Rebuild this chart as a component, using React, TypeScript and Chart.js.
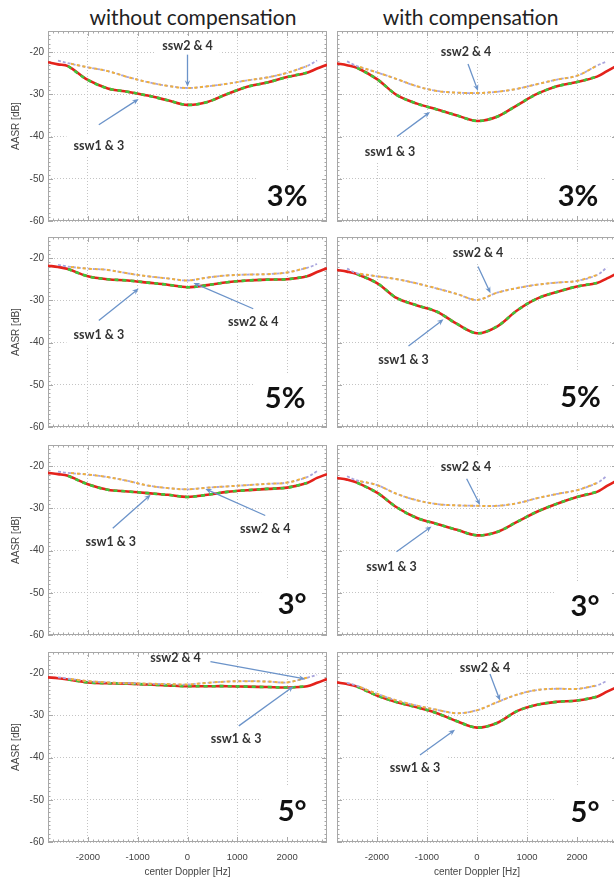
import React, { useEffect, useRef } from 'react';
import { Chart, registerables } from 'chart.js';
Chart.register(...registerables);

// ---------- data ----------
const FREQ_HZ = [-2800, -2600, -2400, -2000, -1600, -1200, -800, -400, 0, 400, 800, 1200, 1600, 2000, 2400, 2600, 2800];
const X_TICKS = [-2000, -1000, 0, 1000, 2000];
const Y_TICKS = [-60, -50, -40, -30, -20];
const COLUMN_TITLES = ['without compensation', 'with compensation'];
const ROW_TAGS = ['3%', '5%', '3°', '5°'];
const SSW13_LABEL = 'ssw1 & 3';
const SSW24_LABEL = 'ssw2 & 4';

// without compensation (left column)
const L1_SSW13 = [-22.4, -22.9, -23.3, -26.6, -28.6, -29.4, -30.3, -31.4, -32.5, -31.8, -29.9, -28.2, -27.2, -25.9, -24.9, -23.9, -23.0];
const L1_SSW24 = [null, -22.0, -22.6, -23.6, -24.5, -25.9, -27.1, -28.0, -28.5, -28.1, -27.5, -26.7, -26.0, -24.9, -23.3, -22.0, null];
const L2_SSW13 = [-21.8, -22.1, -22.6, -24.3, -25.0, -25.3, -25.8, -26.3, -26.9, -26.4, -25.7, -25.3, -25.1, -25.0, -24.3, -23.3, -22.4];
const L2_SSW24 = [null, -21.6, -22.0, -22.5, -22.8, -23.6, -24.3, -24.8, -25.3, -24.6, -24.1, -23.9, -23.8, -23.4, -22.3, -21.4, null];
const L3_SSW13 = [-21.6, -21.9, -22.3, -24.3, -25.6, -26.0, -26.4, -26.8, -27.3, -26.8, -26.1, -25.7, -25.4, -25.1, -24.0, -22.8, -21.9];
const L3_SSW24 = [null, -21.3, -21.6, -22.0, -22.6, -23.5, -24.6, -25.2, -25.5, -25.1, -24.8, -24.5, -24.2, -23.9, -22.6, -21.2, null];
const L4_SSW13 = [-21.0, -21.2, -21.5, -22.2, -22.4, -22.5, -22.7, -22.9, -23.1, -23.1, -23.1, -23.2, -23.3, -23.4, -23.1, -22.3, -21.4];
const L4_SSW24 = [null, -21.0, -21.3, -21.9, -22.2, -22.4, -22.5, -22.6, -22.7, -22.3, -22.0, -21.9, -22.0, -22.2, -21.1, -20.4, null];

// with compensation (right column)
const R1_SSW13 = [-22.7, -23.1, -23.7, -26.4, -30.2, -32.2, -33.6, -35.0, -36.3, -35.3, -32.6, -29.9, -28.1, -27.1, -25.8, -24.5, -23.2];
const R1_SSW24 = [null, -22.2, -23.3, -24.8, -26.4, -28.1, -29.2, -29.6, -29.7, -29.4, -28.7, -27.6, -26.5, -25.6, -23.2, -22.2, null];
const R2_SSW13 = [-22.8, -23.2, -23.8, -25.9, -29.5, -31.2, -32.7, -35.6, -37.8, -36.2, -32.4, -29.6, -28.0, -26.7, -25.9, -24.8, -23.6];
const R2_SSW24 = [null, -22.5, -23.6, -24.3, -25.0, -26.0, -27.2, -28.5, -29.9, -28.2, -27.1, -26.3, -25.8, -25.4, -24.0, -22.2, null];
const R3_SSW13 = [-22.8, -23.2, -23.9, -26.3, -29.8, -32.3, -33.7, -35.1, -36.4, -35.6, -33.2, -30.8, -28.9, -27.3, -26.1, -24.7, -23.4];
const R3_SSW24 = [null, -22.4, -23.4, -24.5, -26.6, -28.1, -29.0, -29.3, -29.4, -29.4, -28.8, -27.6, -26.6, -25.7, -24.0, -22.3, null];
const R4_SSW13 = [-22.2, -22.6, -23.2, -25.3, -26.9, -28.1, -29.5, -31.4, -32.9, -31.8, -29.0, -27.5, -26.8, -26.5, -25.6, -24.4, -23.3];
const R4_SSW24 = [null, -22.3, -23.0, -24.9, -26.5, -27.7, -28.7, -29.5, -28.8, -26.9, -25.1, -24.0, -23.7, -23.75, -22.9, -21.8, null];

// ---------- annotation placement (data units: [Hz, dB]) ----------
type Note = { text: string; at: [number, number]; from: [number, number]; to: [number, number] };
type PanelCfg = { row: number; col: number; lower: (number | null)[]; upper: (number | null)[]; tagAt: [number, number]; notes: Note[] };

const PANELS: PanelCfg[] = [
  { row: 0, col: 0, lower: L1_SSW13, upper: L1_SSW24, tagAt: [2000, -54.2], notes: [
    { text: SSW24_LABEL, at: [0, -18.6], from: [0, -20.6], to: [0, -28.2] },
    { text: SSW13_LABEL, at: [-1780, -42.2], from: [-1780, -37.2], to: [-980, -31.1] },
  ] },
  { row: 0, col: 1, lower: R1_SSW13, upper: R1_SSW24, tagAt: [2020, -54.2], notes: [
    { text: SSW24_LABEL, at: [-220, -20.0], from: [-180, -22.8], to: [20, -29.2] },
    { text: SSW13_LABEL, at: [-1740, -43.6], from: [-1600, -40.0], to: [-940, -34.2] },
  ] },
  { row: 1, col: 0, lower: L2_SSW13, upper: L2_SSW24, tagAt: [1960, -53.4], notes: [
    { text: SSW13_LABEL, at: [-1780, -38.1], from: [-1780, -34.8], to: [-980, -27.2] },
    { text: SSW24_LABEL, at: [1320, -35.1], from: [1320, -32.0], to: [120, -25.9] },
  ] },
  { row: 1, col: 1, lower: R2_SSW13, upper: R2_SSW24, tagAt: [2070, -53.0], notes: [
    { text: SSW24_LABEL, at: [20, -18.8], from: [20, -22.0], to: [270, -28.3] },
    { text: SSW13_LABEL, at: [-1470, -44.2], from: [-1370, -40.8], to: [-670, -34.5] },
  ] },
  { row: 2, col: 0, lower: L3_SSW13, upper: L3_SSW24, tagAt: [2100, -52.8], notes: [
    { text: SSW13_LABEL, at: [-1540, -38.0], from: [-1500, -34.7], to: [-740, -26.8] },
    { text: SSW24_LABEL, at: [1560, -34.9], from: [1560, -31.7], to: [360, -25.4] },
  ] },
  { row: 2, col: 1, lower: R3_SSW13, upper: R3_SSW24, tagAt: [2160, -53.4], notes: [
    { text: SSW24_LABEL, at: [-220, -20.1], from: [-207, -23.0], to: [60, -29.2] },
    { text: SSW13_LABEL, at: [-1710, -43.9], from: [-1610, -40.3], to: [-910, -34.3] },
  ] },
  { row: 3, col: 0, lower: L4_SSW13, upper: L4_SSW24, tagAt: [2100, -52.8], notes: [
    { text: SSW24_LABEL, at: [-240, -16.5], from: [460, -17.3], to: [2360, -21.4] },
    { text: SSW13_LABEL, at: [975, -35.5], from: [1030, -32.5], to: [2130, -23.1] },
  ] },
  { row: 3, col: 1, lower: R4_SSW13, upper: R4_SSW24, tagAt: [2160, -53.0], notes: [
    { text: SSW24_LABEL, at: [160, -18.9], from: [260, -20.2], to: [460, -26.5] },
    { text: SSW13_LABEL, at: [-1240, -42.5], from: [-1140, -39.4], to: [-440, -33.4] },
  ] },
];

// ---------- styling / layout ----------
const ROW_TOPS = [31, 237, 445, 652];
const RED = '#e3221b';
const GREEN = '#3fc43a';
const PURPLE = '#a9a5dd';
const ORANGE = '#f0b03c';
const ARROW = '#6b93c9';
const GRID = '#c4c4c4';
const FRAME = '#a8a8a8';
const FAMILY = 'Liberation Sans, Arial, sans-serif';
const X_TICK_FONT = { family: FAMILY, size: 9.5 };
const Y_TICK_FONT = { family: FAMILY, size: 10 };
const NOTE_FONT = 'bold 12.5px Lato, "Open Sans", sans-serif';
const TAG_FONT = 'bold 29px Lato, "Open Sans", sans-serif';

function PanelChart({ cfg }: { cfg: PanelCfg }) {
  const ref = useRef<HTMLCanvasElement>(null);
  const bottomRow = cfg.row === 3;
  const W = cfg.col === 0 ? 330 : 290;
  const H = bottomRow ? 240 : 210;
  const left = cfg.col === 0 ? 0 : 330;
  const top = ROW_TOPS[cfg.row] - 10;

  useEffect(() => {
    const pts = (vals: (number | null)[], from: number, to: number) =>
      FREQ_HZ.map((f, i) => ({ x: f, y: vals[i] as number, i }))
        .filter(p => p.i >= from && p.i <= to && p.y !== null)
        .map(p => ({ x: p.x, y: p.y }));
    const tag = ROW_TAGS[cfg.row];

    const overlay = {
      id: 'overlay',
      beforeDatasetsDraw(chart: any) {
        const { ctx, chartArea: a, scales } = chart;
        const xs = scales.x, ys = scales.y;
        ctx.save();
        ctx.fillStyle = '#ffffff';
        const tx = xs.getPixelForValue(cfg.tagAt[0]);
        const ty = ys.getPixelForValue(cfg.tagAt[1]);
        ctx.fillRect(tx - 31, ty - 26, a.right - (tx - 31) - 2, a.bottom - (ty - 26) - 2);
        ctx.font = NOTE_FONT;
        cfg.notes.forEach(n => {
          const w = ctx.measureText(n.text).width + 14;
          const nx = xs.getPixelForValue(n.at[0]);
          const ny = ys.getPixelForValue(n.at[1]);
          ctx.fillRect(nx - w / 2, ny - 11, w, 22);
        });
        ctx.strokeStyle = FRAME;
        ctx.lineWidth = 1;
        ctx.strokeRect(a.left + 0.5, a.top + 0.5, a.width - 1, a.height - 1);
        ctx.beginPath();
        for (let f = -2800; f <= 2800; f += 100) {
          const px = Math.round(xs.getPixelForValue(f)) + 0.5;
          if (px < a.left || px > a.right) continue;
          const len = f % 1000 === 0 ? 5 : 2.5;
          ctx.moveTo(px, a.top); ctx.lineTo(px, a.top + len);
          ctx.moveTo(px, a.bottom); ctx.lineTo(px, a.bottom - len);
        }
        for (let v = -60; v <= -15; v += 1) {
          const py = Math.round(ys.getPixelForValue(v)) + 0.5;
          const len = v % 10 === 0 ? 5 : 2.5;
          ctx.moveTo(a.left, py); ctx.lineTo(a.left + len, py);
          ctx.moveTo(a.right, py); ctx.lineTo(a.right - len, py);
        }
        ctx.stroke();
        ctx.restore();
      },
      afterDatasetsDraw(chart: any) {
        const { ctx, scales } = chart;
        const xs = scales.x, ys = scales.y;
        ctx.save();
        ctx.strokeStyle = ARROW;
        ctx.fillStyle = ARROW;
        ctx.lineWidth = 1.3;
        cfg.notes.forEach(n => {
          const x1 = xs.getPixelForValue(n.from[0]), y1 = ys.getPixelForValue(n.from[1]);
          const x2 = xs.getPixelForValue(n.to[0]), y2 = ys.getPixelForValue(n.to[1]);
          const ang = Math.atan2(y2 - y1, x2 - x1);
          const hl = 7, hw = 0.4;
          ctx.beginPath();
          ctx.moveTo(x1, y1);
          ctx.lineTo(x2 - Math.cos(ang) * 3, y2 - Math.sin(ang) * 3);
          ctx.stroke();
          ctx.beginPath();
          ctx.moveTo(x2, y2);
          ctx.lineTo(x2 - hl * Math.cos(ang - hw), y2 - hl * Math.sin(ang - hw));
          ctx.lineTo(x2 - hl * 0.6 * Math.cos(ang), y2 - hl * 0.6 * Math.sin(ang));
          ctx.lineTo(x2 - hl * Math.cos(ang + hw), y2 - hl * Math.sin(ang + hw));
          ctx.closePath();
          ctx.fill();
        });
        ctx.textAlign = 'center';
        ctx.textBaseline = 'middle';
        ctx.fillStyle = '#333333';
        ctx.font = NOTE_FONT;
        cfg.notes.forEach(n => {
          ctx.fillText(n.text, xs.getPixelForValue(n.at[0]), ys.getPixelForValue(n.at[1]));
        });
        ctx.fillStyle = '#111111';
        ctx.font = TAG_FONT;
        ctx.fillText(tag, xs.getPixelForValue(cfg.tagAt[0]), ys.getPixelForValue(cfg.tagAt[1]));
        ctx.restore();
      },
    };

    const chart = new Chart(ref.current as HTMLCanvasElement, {
      type: 'line',
      data: {
        datasets: [
          { data: pts(cfg.lower, 0, 16), borderColor: RED, borderWidth: 2.6, order: 4 },
          { data: pts(cfg.lower, 2, 14), borderColor: GREEN, borderWidth: 2.6, borderDash: [4, 4], order: 3 },
          { data: pts(cfg.upper, 1, 15), borderColor: PURPLE, borderWidth: 1.8, borderDash: [3, 2], order: 2 },
          { data: pts(cfg.upper, 2, 14), borderColor: ORANGE, borderWidth: 2, borderDash: [3, 3], borderDashOffset: 3, order: 1 },
        ] as any,
      },
      options: {
        responsive: false,
        animation: false,
        devicePixelRatio: 1,
        layout: { padding: { left: 0, right: 3, top: 10, bottom: bottomRow ? 0 : 10 } },
        elements: { point: { radius: 0 }, line: { tension: 0.35, fill: false } },
        plugins: { legend: { display: false }, tooltip: { enabled: false } },
        scales: {
          x: {
            type: 'linear',
            min: -2800,
            max: 2800,
            afterBuildTicks: (s: any) => { s.ticks = X_TICKS.map(v => ({ value: v })); },
            afterFit: (s: any) => { s.height = bottomRow ? 40 : 0; },
            grid: { color: GRID, lineWidth: 1, drawTicks: false },
            border: { display: false, dash: [1, 2] },
            ticks: { display: bottomRow, padding: 10, color: '#444', font: X_TICK_FONT, maxRotation: 0, callback: (v: any) => String(v) },
            title: { display: bottomRow, text: 'center Doppler [Hz]', color: '#444', font: { family: FAMILY, size: 10 }, padding: { top: 0, bottom: 4 } },
          },
          y: {
            type: 'linear',
            min: -60,
            max: -15,
            afterBuildTicks: (s: any) => { s.ticks = Y_TICKS.map(v => ({ value: v })); },
            afterFit: (s: any) => { s.width = cfg.col === 0 ? 48 : 7; },
            grid: { color: GRID, lineWidth: 1, drawTicks: false },
            border: { display: false, dash: [1, 2] },
            ticks: { display: cfg.col === 0, padding: 4, color: '#444', font: Y_TICK_FONT, callback: (v: any) => String(v) },
            title: { display: cfg.col === 0, text: 'AASR [dB]', color: '#444', font: { family: FAMILY, size: 10 }, padding: { top: 10, bottom: 0 } },
          },
        },
      } as any,
      plugins: [overlay],
    });
    return () => chart.destroy();
  }, []);

  return (
    <canvas
      ref={ref}
      width={W}
      height={H}
      style={{ position: 'absolute', left, top, width: W, height: H }}
    />
  );
}

export default function App() {
  const titleStyle: React.CSSProperties = {
    position: 'absolute',
    top: 4,
    textAlign: 'center',
    fontFamily: 'Lato, "Open Sans", sans-serif',
    fontSize: 21,
    lineHeight: '26px',
    color: '#222',
    whiteSpace: 'nowrap',
  };
  return (
    <div style={{ position: 'absolute', left: 0, top: 0, width: 614, height: 883, overflow: 'hidden', background: '#fff' }}>
      <div style={{ ...titleStyle, left: 0, width: 386 }}>{COLUMN_TITLES[0]}</div>
      <div style={{ ...titleStyle, left: 330, width: 281 }}>{COLUMN_TITLES[1]}</div>
      {PANELS.map((p, i) => <PanelChart key={i} cfg={p} />)}
    </div>
  );
}
